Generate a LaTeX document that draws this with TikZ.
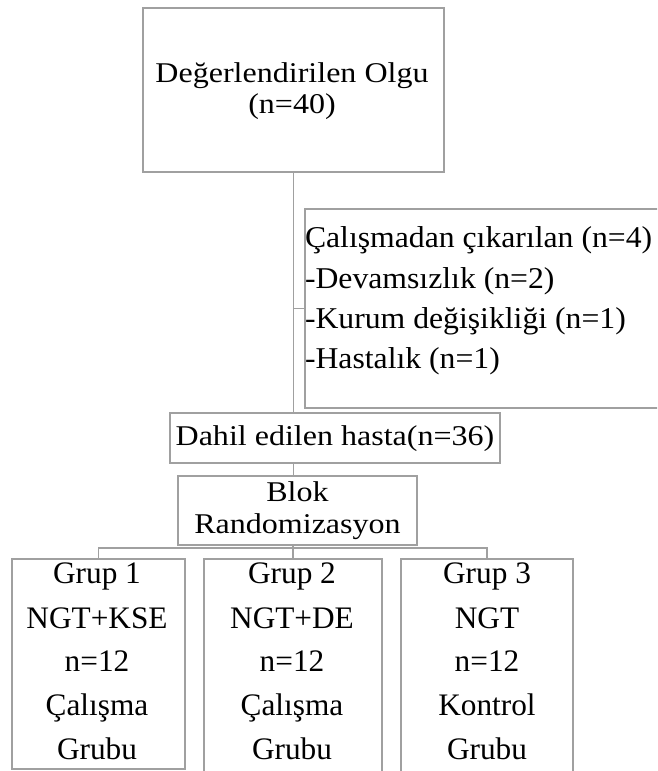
\documentclass[tikz,border=0pt]{standalone}
\usepackage{fontspec}
\setmainfont{Liberation Serif}
\newfontfamily\widefont{Liberation Serif}[FakeStretch=1.12]
\newfontfamily\midfont{Liberation Serif}[FakeStretch=1.05]
\definecolor{linegray}{RGB}{160,160,160}
\tikzset{
  box/.style={draw=linegray, line width=1.3pt, inner sep=0pt, outer sep=0pt},
  conn/.style={draw=linegray, line width=1.3pt},
  txt/.style={inner sep=0pt, outer sep=0pt, anchor=base, font=\widefont\fontsize{28.6}{31}\selectfont},
  ltxt/.style={inner sep=0pt, outer sep=0pt, anchor=base west, font=\midfont\fontsize{30.2}{31}\selectfont},
  gtxt/.style={inner sep=0pt, outer sep=0pt, anchor=base, font=\fontsize{31.3}{31}\selectfont}
}
\begin{document}
\begin{tikzpicture}[x=1pt,y=-1pt]
\clip (0,0) rectangle (657,771);
\useasboundingbox (0,0) rectangle (657,771);
% boxes
\node[box, minimum width=301pt, minimum height=164pt] (top) at (293.5,90) {};
\node[box, minimum width=375pt, minimum height=199pt] (excl) at (492.5,308.5) {};
\node[box, minimum width=330pt, minimum height=50pt] (dahil) at (335,438) {};
\node[box, minimum width=239pt, minimum height=69pt] (blok) at (297.5,510.5) {};
\node[box, minimum width=173pt, minimum height=210pt] (g1) at (98.5,664) {};
\node[box, minimum width=178pt, minimum height=241pt] (g2) at (293,679.5) {};
\node[box, minimum width=172pt, minimum height=241pt] (g3) at (487,679.5) {};
% texts
\node[txt] (t1) at (292,82) {Değerlendirilen Olgu};
\node[txt] (t2) at (292,113) {(n=40)};
\node[ltxt] (e1) at (305,247) {Çalışmadan çıkarılan (n=4)};
\node[ltxt] (e2) at (305,288) {-Devamsızlık (n=2)};
\node[ltxt] (e3) at (305,328) {-Kurum değişikliği (n=1)};
\node[ltxt] (e4) at (305,368) {-Hastalık (n=1)};
\node[txt] (d1) at (335,445) {Dahil edilen hasta(n=36)};
\node[txt] (b1) at (297.5,501) {Blok};
\node[txt] (b2) at (297.5,533) {Randomizasyon};
\node[gtxt] (a1) at (97,583) {Grup 1};
\node[gtxt] (a2) at (97,628) {NGT+KSE};
\node[gtxt] (a3) at (97,671) {n=12};
\node[gtxt] (a4) at (97,715) {Çalışma};
\node[gtxt] (a5) at (97,759) {Grubu};
\node[gtxt] (c1) at (292,583) {Grup 2};
\node[gtxt] (c2) at (292,628) {NGT+DE};
\node[gtxt] (c3) at (292,671) {n=12};
\node[gtxt] (c4) at (292,715) {Çalışma};
\node[gtxt] (c5) at (292,759) {Grubu};
\node[gtxt] (k1) at (487,583) {Grup 3};
\node[gtxt] (k2) at (487,628) {NGT};
\node[gtxt] (k3) at (487,671) {n=12};
\node[gtxt] (k4) at (487,715) {Kontrol};
\node[gtxt] (k5) at (487,759) {Grubu};
% connectors
\coordinate (split) at (g1.north |- 0,548);
\draw[conn] (top.south) -- (top.south |- dahil.north);
\draw[conn] (top.south |- excl.west) -- (excl.west);
\draw[conn] (top.south |- dahil.south) -- (top.south |- blok.north);
\draw[conn] (g2.north |- blok.south) -- (g2.north);
\draw[conn] (g1.north) -- (split) -| (g3.north);
\end{tikzpicture}
\end{document}
